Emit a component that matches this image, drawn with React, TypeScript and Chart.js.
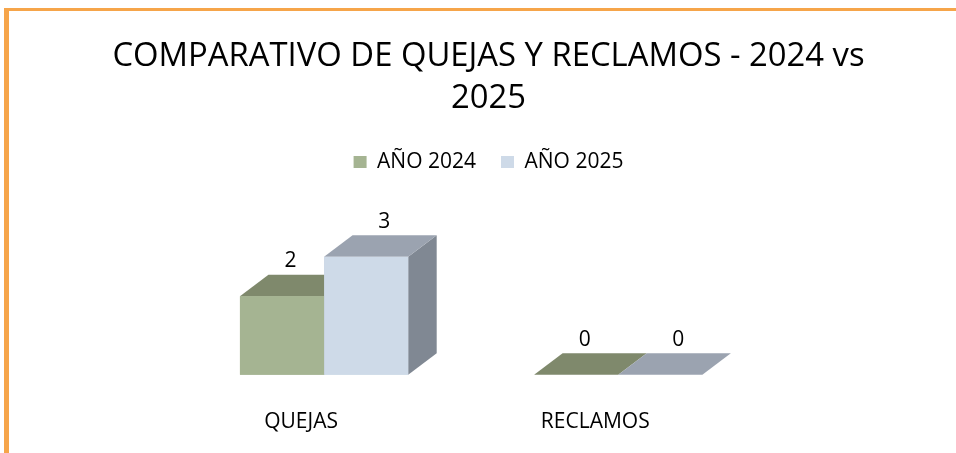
import React, { useEffect, useRef } from "react";
import { Chart, registerables } from "chart.js";

Chart.register(...registerables);

const categories = ["QUEJAS", "RECLAMOS"];
const seriesNames = ["AÑO 2024", "AÑO 2025"];
const values2024 = [2, 0];
const values2025 = [3, 0];
const titleLines = ["COMPARATIVO DE QUEJAS Y RECLAMOS - 2024 vs", "2025"];

const FONT = "'Open Sans', 'Noto Sans', sans-serif";
const FRONT = ["#A5B492", "#CEDAE8"];
const TOP = ["#7F896C", "#9BA3B0"];
const SIDE = ["#6C7559", "#808893"];
const DEPTH_X = 28.5;
const DEPTH_Y = -21.5;
const LABEL_DX = [8.5, 18];

const bar3d = {
  id: "bar3d",
  afterDatasetsDraw(chart: any) {
    const ctx = chart.ctx;
    ctx.save();
    chart.data.datasets.forEach((_ds: any, di: number) => {
      const meta = chart.getDatasetMeta(di);
      meta.data.forEach((el: any) => {
        const { x, y, base, width } = el.getProps(["x", "y", "base", "width"], true);
        const l = x - width / 2;
        const r = x + width / 2;
        const top = Math.min(y, base);
        const bot = Math.max(y, base);
        if (bot - top > 0.5) {
          ctx.fillStyle = SIDE[di];
          ctx.beginPath();
          ctx.moveTo(r, top);
          ctx.lineTo(r + DEPTH_X, top + DEPTH_Y);
          ctx.lineTo(r + DEPTH_X, bot + DEPTH_Y);
          ctx.lineTo(r, bot);
          ctx.closePath();
          ctx.fill();
        }
        ctx.fillStyle = TOP[di];
        ctx.beginPath();
        ctx.moveTo(l, top);
        ctx.lineTo(l + DEPTH_X, top + DEPTH_Y);
        ctx.lineTo(r + DEPTH_X, top + DEPTH_Y);
        ctx.lineTo(r, top);
        ctx.closePath();
        ctx.fill();
        if (bot - top > 0.5) {
          ctx.fillStyle = FRONT[di];
          ctx.fillRect(l, top, width, bot - top);
        }
      });
    });
    ctx.fillStyle = "#000000";
    ctx.font = `21px ${FONT}`;
    ctx.textAlign = "center";
    ctx.textBaseline = "middle";
    chart.data.datasets.forEach((ds: any, di: number) => {
      const meta = chart.getDatasetMeta(di);
      meta.data.forEach((el: any, i: number) => {
        const { x, y, base } = el.getProps(["x", "y", "base"], true);
        const top = Math.min(y, base);
        ctx.fillText(String(ds.data[i]), x + LABEL_DX[di], top - 35);
      });
    });
    ctx.restore();
  },
};

export default function App() {
  const ref = useRef<HTMLCanvasElement | null>(null);

  useEffect(() => {
    if (!ref.current) return;
    const chart = new Chart(ref.current, {
      type: "bar",
      data: {
        labels: categories,
        datasets: [
          { label: seriesNames[0], data: values2024, backgroundColor: FRONT[0], borderWidth: 0 },
          { label: seriesNames[1], data: values2025, backgroundColor: FRONT[1], borderWidth: 0 },
        ],
      },
      options: {
        responsive: false,
        animation: false,
        events: [],
        layout: { padding: { left: 21, right: 0, top: 0, bottom: 0 } },
        datasets: {
          bar: { barPercentage: 1, categoryPercentage: 0.572 },
        },
        scales: {
          x: {
            grid: { display: false, drawTicks: false },
            border: { display: false },
            ticks: {
              color: "#000000",
              font: { family: FONT, size: 21 },
              padding: 35,
              labelOffset: -23,
              maxRotation: 0,
            },
          },
          y: {
            min: 0,
            max: 4.89,
            grid: { display: false, drawTicks: false },
            border: { display: false },
            ticks: { display: false },
            afterFit: (scale: any) => {
              scale.width = 156;
            },
          },
          yR: {
            position: "right",
            min: 0,
            max: 1,
            grid: { display: false, drawTicks: false },
            border: { display: false },
            ticks: { display: false },
            afterFit: (scale: any) => {
              scale.width = 190.7;
            },
          },
        },
        plugins: {
          title: {
            display: true,
            text: titleLines,
            color: "#000000",
            font: { family: FONT, size: 32.8, weight: "normal", lineHeight: 42 / 32.8 },
            padding: { top: 36, bottom: 6.5 },
          },
          legend: {
            display: true,
            position: "top",
            labels: {
              color: "#000000",
              font: { family: FONT, size: 21 },
              boxWidth: 13,
              boxHeight: 12,
              padding: 25,
            },
          },
          tooltip: { enabled: false },
        },
      },
      plugins: [bar3d],
    });
    return () => chart.destroy();
  }, []);

  return (
    <div style={{ position: "fixed", left: 0, top: 0, width: 956, height: 453, overflow: "hidden", background: "#ffffff" }}>
      <div
        style={{
          position: "absolute",
          left: 4,
          top: 8,
          width: 947,
          height: 442,
          borderLeft: "5px solid #F6A54A",
          borderTop: "3px solid #F6A54A",
        }}
      />
      <canvas ref={ref} width={956} height={470} style={{ position: "absolute", left: 0, top: 0, display: "block" }} />
    </div>
  );
}
